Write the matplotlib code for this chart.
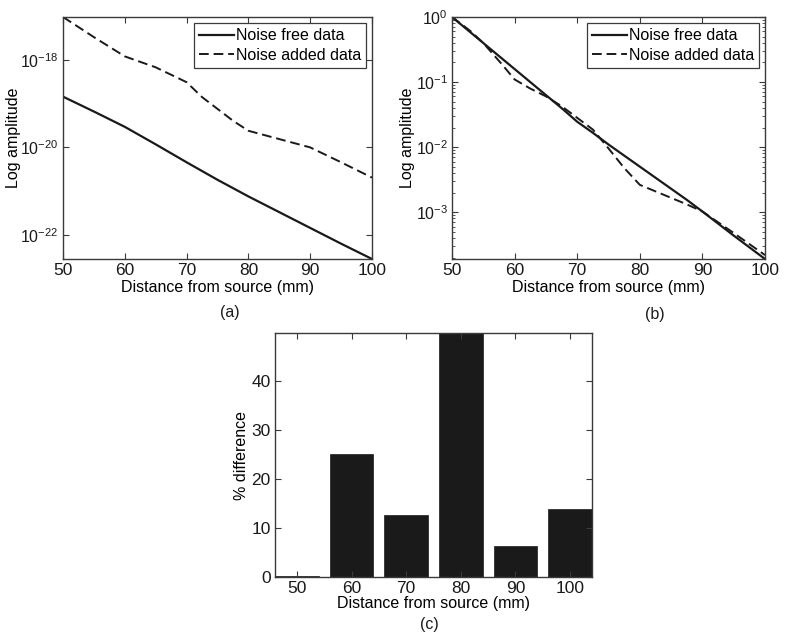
import numpy as np
import matplotlib
matplotlib.use("Agg")
import matplotlib.pyplot as plt
from matplotlib.ticker import LogLocator, NullLocator, LogFormatterSciNotation

plt.rcParams['font.family'] = ['Liberation Sans', 'DejaVu Sans']
plt.rcParams['mathtext.fontset'] = 'custom'
plt.rcParams['mathtext.rm'] = 'Liberation Sans'
plt.rcParams['mathtext.it'] = 'Liberation Sans:italic'
plt.rcParams['font.size'] = 11.5

# (a) log10 of amplitude vs distance
dist_a = [50, 55, 60, 65, 70, 72.5, 75, 77.5, 80, 85, 90, 95, 100]
free_a = [-18.84, -19.18, -19.53, -19.93, -20.34, -20.54, -20.74, -20.93, -21.12,
          -21.48, -21.84, -22.2, -22.55]
noisy_a = [-17.02, -17.48, -17.92, -18.17, -18.51, -18.85, -19.12, -19.39, -19.62,
           -19.81, -20.0, -20.34, -20.69]

# (b) normalised log10 amplitude
dist_b = [50, 53, 55, 58, 60, 62.5, 65, 67.5, 70, 72.5, 75, 77.5, 80, 82.5, 85,
          87.5, 90, 95, 100]
free_b = [0, -0.24, -0.40, -0.64, -0.80, -1.0, -1.20, -1.40, -1.61, -1.78, -1.96,
          -2.13, -2.30, -2.47, -2.64, -2.81, -2.99, -3.36, -3.72]
noisy_b = [0, -0.22, -0.40, -0.73, -0.96, -1.10, -1.22, -1.37, -1.55, -1.73, -2.02,
           -2.32, -2.58, -2.68, -2.78, -2.88, -2.99, -3.32, -3.66]

# (c) percentage difference
dist_c = [50, 60, 70, 80, 90, 100]
pct_c = [0.2, 25.2, 12.7, 49.8, 6.4, 13.9]

labels = ['Noise free data', 'Noise added data']
xlab = 'Distance from source (mm)'
ink = '#1a1a1a'
spine = '#3a3a3a'

fig = plt.figure(figsize=(7.85, 6.4), dpi=100)
W, H = 785.0, 640.0


def add_axes(l, r, t, b):
    return fig.add_axes([l / W, 1 - b / H, (r - l) / W, (b - t) / H])


def style(ax, ysize=12.5):
    for s in ax.spines.values():
        s.set_color(spine)
        s.set_linewidth(1.0)
    ax.tick_params(which='both', direction='in', top=True, right=True,
                   color=spine, labelcolor=ink, labelsize=12.5, pad=3)
    ax.tick_params(axis='y', labelsize=ysize)
    ax.tick_params(which='major', length=4)
    ax.tick_params(which='minor', length=2)


def line_panel(ax, x, y1, y2):
    ax.plot(x, 10.0 ** np.array(y1), color=ink, lw=1.6, label=labels[0])
    ax.plot(x, 10.0 ** np.array(y2), color=ink, lw=1.4, ls=(0, (5, 2.5)),
            label=labels[1])
    ax.set_yscale('log')
    ax.set_xlim(50, 100)
    all_y = np.concatenate([y1, y2])
    ax.set_ylim(10.0 ** all_y.min(), 10.0 ** all_y.max())
    ax.set_xticks([50, 60, 70, 80, 90, 100])
    ax.set_xlabel(xlab, labelpad=1)
    ax.set_ylabel('Log amplitude')
    leg = ax.legend(loc='upper right', handlelength=2.2, handletextpad=0.1,
                    labelspacing=0.3, borderpad=0.3, borderaxespad=0.4,
                    fancybox=False, framealpha=1, fontsize=11.5)
    leg.get_frame().set_edgecolor(spine)
    leg.get_frame().set_linewidth(0.9)
    style(ax, ysize=11.5)


# panel (a)
ax1 = add_axes(63, 372, 17, 259)
line_panel(ax1, dist_a, free_a, noisy_a)
ax1.set_yticks([1e-22, 1e-20, 1e-18])
ax1.yaxis.set_major_formatter(LogFormatterSciNotation())
ax1.yaxis.set_minor_locator(NullLocator())
ax1.yaxis.set_label_coords(-0.135, 0.5)

# panel (b)
ax2 = add_axes(452, 765, 17, 259)
line_panel(ax2, dist_b, free_b, noisy_b)
ax2.set_yticks([1e-3, 1e-2, 1e-1, 1])
ax2.yaxis.set_major_formatter(LogFormatterSciNotation())
ax2.yaxis.set_minor_locator(LogLocator(base=10, subs=np.arange(2, 10)))
ax2.yaxis.set_label_coords(-0.118, 0.5)

# panel (c)
ax3 = add_axes(275, 592, 333, 577)
ax3.bar(dist_c, pct_c, width=8, color=ink, edgecolor=ink, linewidth=0.5)
ax3.set_xlim(dist_c[0] - 4, dist_c[-1] + 4)
ax3.set_ylim(0, max(pct_c))
ax3.set_xticks(dist_c)
ax3.set_yticks([0, 10, 20, 30, 40])
ax3.set_xlabel(xlab, labelpad=0)
ax3.set_ylabel('% difference')
ax3.yaxis.set_label_coords(-0.082, 0.5)
style(ax3)

fig.text(230 / W, 1 - 313 / H, '(a)', ha='center', va='center', fontsize=11.5, color=ink)
fig.text(655 / W, 1 - 315 / H, '(b)', ha='center', va='center', fontsize=11.5, color=ink)
fig.text(429 / W, 1 - 625 / H, '(c)', ha='center', va='center', fontsize=11.5, color=ink)

fig.savefig('out.png', dpi=100, facecolor='white')
